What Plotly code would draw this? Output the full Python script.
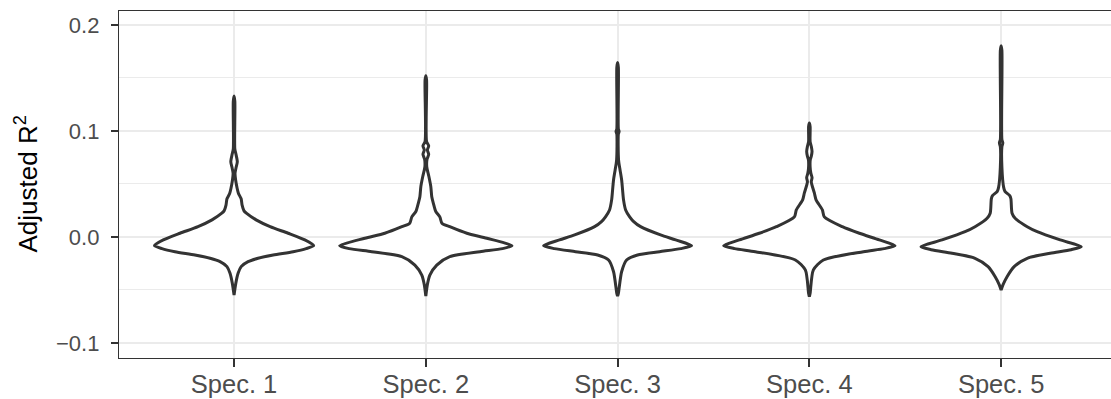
import plotly.graph_objects as go

# Categories on the x axis
specs = ["Spec. 1", "Spec. 2", "Spec. 3", "Spec. 4", "Spec. 5"]

# Kernel-density outlines of Adjusted R^2 per specification:
# y levels (R^2) and violin half-widths (in category units)
spec1_y = [0.133, 0.128, 0.083, 0.078, 0.071, 0.065, 0.060, 0.054, 0.046, 0.041, 0.036, 0.030,
           0.0246, 0.0224, 0.0161, 0.0097, 0.0035, -0.0028, -0.0082, -0.011, -0.0139, -0.017,
           -0.0201, -0.0233, -0.028, -0.0343, -0.0438, -0.0548]
spec1_w = [0, 0.004, 0.004, 0.010, 0.017, 0.010, 0.005, 0.008, 0.016, 0.023, 0.037, 0.042,
           0.052, 0.064, 0.115, 0.188, 0.282, 0.369, 0.415, 0.376, 0.308, 0.204,
           0.125, 0.073, 0.037, 0.021, 0.009, 0]

spec2_y = [0.152, 0.148, 0.090, 0.086, 0.082, 0.078, 0.073, 0.066, 0.057, 0.0475, 0.038, 0.032,
           0.024, 0.019, 0.013, 0.0097, 0.0035, -0.0012, -0.0082, -0.011, -0.0139, -0.0186,
           -0.0265, -0.036, -0.045, -0.0558]
spec2_w = [0, 0.004, 0.004, 0.015, 0.008, 0.015, 0.006, 0.005, 0.016, 0.026, 0.031, 0.039,
           0.052, 0.073, 0.084, 0.125, 0.214, 0.318, 0.449, 0.400, 0.282, 0.125,
           0.057, 0.021, 0.008, 0]

spec3_y = [0.1645, 0.160, 0.102, 0.0995, 0.097, 0.0728, 0.063, 0.054, 0.0444, 0.035, 0.0255,
           0.019, 0.0145, 0.0097, 0.0019, -0.0028, -0.0082, -0.011, -0.0139, -0.017, -0.0217,
           -0.0328, -0.0532, -0.0558]
spec3_w = [0, 0.004, 0.004, 0.008, 0.004, 0.005, 0.013, 0.021, 0.026, 0.031, 0.042,
           0.063, 0.084, 0.120, 0.224, 0.303, 0.386, 0.330, 0.219, 0.104, 0.047,
           0.021, 0.004, 0]

spec4_y = [0.1075, 0.104, 0.090, 0.0855, 0.0806, 0.076, 0.073, 0.066, 0.060, 0.056, 0.052,
           0.0415, 0.035, 0.0255, 0.019, 0.0097, 0.0035, -0.0028, -0.0082, -0.011, -0.0139,
           -0.0217, -0.0311, -0.0532, -0.0564]
spec4_w = [0, 0.004, 0.004, 0.010, 0.014, 0.010, 0.005, 0.004, 0.008, 0.014, 0.010,
           0.026, 0.035, 0.068, 0.078, 0.172, 0.261, 0.365, 0.447, 0.390, 0.282,
           0.073, 0.021, 0.004, 0]

spec5_y = [0.1805, 0.176, 0.092, 0.0888, 0.085, 0.066, 0.047, 0.043, 0.039, 0.036, 0.0224,
           0.0177, 0.0097, 0.005, -0.0028, -0.0092, -0.012, -0.0154, -0.0201, -0.028,
           -0.0375, -0.045, -0.050]
spec5_w = [0, 0.004, 0.004, 0.009, 0.004, 0.004, 0.013, 0.020, 0.045, 0.051, 0.057,
           0.073, 0.136, 0.188, 0.308, 0.418, 0.365, 0.256, 0.136, 0.068,
           0.031, 0.010, 0]

# Axis ticks
y_ticks = [-0.1, 0.0, 0.1, 0.2]
y_ticklabels = ["\u22120.1", "0.0", "0.1", "0.2"]
y_minor = [-0.05, 0.05, 0.15]

profiles = [(spec1_y, spec1_w), (spec2_y, spec2_w), (spec3_y, spec3_w),
            (spec4_y, spec4_w), (spec5_y, spec5_w)]

ink = "#333333"
grid = "#EBEBEB"
font_family = "Liberation Sans, Arial, Helvetica, sans-serif"

fig = go.Figure()
for i, (ys, ws) in enumerate(profiles):
    centre = i + 1
    xs = [centre + w for w in ws] + [centre - w for w in reversed(ws)]
    yy = list(ys) + list(reversed(ys))
    fig.add_trace(go.Scatter(
        x=xs, y=yy, mode="lines", fill="toself", fillcolor="white",
        line=dict(color=ink, width=3, shape="spline", smoothing=0.7),
        hoverinfo="skip", showlegend=False,
    ))

fig.update_layout(
    width=1111, height=399,
    margin=dict(l=119, r=0, t=11, b=41),
    paper_bgcolor="white", plot_bgcolor="white",
    font=dict(family=font_family, color="#4D4D4D", size=22),
    xaxis=dict(
        range=[0.4, 5.573], tickvals=[1, 2, 3, 4, 5], ticktext=specs,
        automargin=False,
        showgrid=True, gridcolor=grid, gridwidth=1.6, zeroline=False,
        showline=True, linecolor=ink, linewidth=1.4, mirror=True,
        ticks="outside", ticklen=8, tickwidth=1.6, tickcolor=ink,
        ticklabelstandoff=-5,
        tickfont=dict(family=font_family, size=25.5, color="#4D4D4D"),
    ),
    yaxis=dict(
        range=[-0.1142, 0.2132], tickvals=y_ticks, ticktext=y_ticklabels,
        automargin=False,
        showgrid=True, gridcolor=grid, gridwidth=1.6, zeroline=False,
        showline=True, linecolor=ink, linewidth=1.4, mirror=False,
        ticks="outside", ticklen=7, tickwidth=1.6, tickcolor=ink,
        ticklabelstandoff=7,
        tickfont=dict(family=font_family, size=22, color="#4D4D4D"),
        minor=dict(tickvals=y_minor, showgrid=True, gridcolor=grid, gridwidth=1.0, ticks=""),
    ),
    annotations=[dict(
        text="Adjusted R<sup>2</sup>", textangle=-90,
        xref="paper", yref="paper", x=(27 - 119) / 992, y=0.5,
        xanchor="center", yanchor="middle", showarrow=False,
        font=dict(family=font_family, size=26, color="black"),
    )],
)

fig.write_html("out.html")
